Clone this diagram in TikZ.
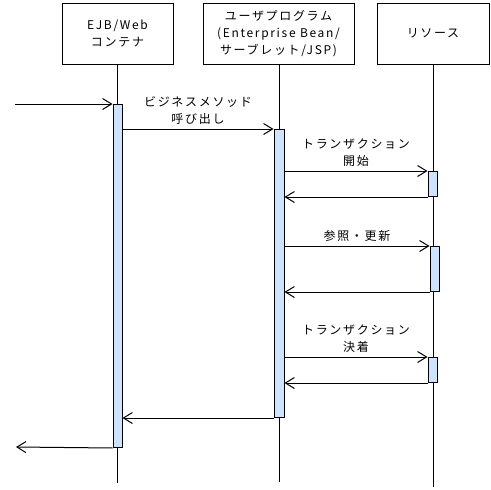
\documentclass[tikz,border=0pt]{standalone}
\usepackage{fontspec}
\setmainfont[LetterSpace=14]{Noto Sans CJK JP}
\usepackage{xcolor}
\usetikzlibrary{arrows.meta}
\definecolor{actblue}{RGB}{204,228,255}

\begin{document}
\begin{tikzpicture}[x=1pt,y=-1pt,
    every node/.style={font=\fontsize{12}{17}\selectfont},
    lifebox/.style={draw, line width=1pt, minimum height=61pt, align=center, inner sep=0pt},
    actbar/.style={draw, fill=actblue, line width=1pt, minimum width=9pt, inner sep=0pt, anchor=north},
    msg/.style={line width=1pt, -{Straight Barb[length=9pt,width=11pt,line width=1pt]}},
    lbl/.style={above=1pt, align=center}]
				\useasboundingbox (0,0) rectangle (491,490);

				\node[lifebox, minimum width=111pt] (ejb) at (117.5,33.5) {EJB/Web\\コンテナ};
				\node[lifebox, minimum width=151pt] (user) at (278.5,33.5) {ユーザプログラム\\(Enterprise Bean/\\サーブレット/JSP)};
				\node[lifebox, minimum width=112pt] (res) at (433,33.5) {リソース};

				\coordinate (ejbend) at (117.5,483);
				\coordinate (userend) at (279,482);
				\coordinate (resend) at (433,487);
				\draw[line width=1pt] (ejb.south) -- (ejbend);
				\draw[line width=1pt] (user.south -| userend) -- (userend);
				\draw[line width=1pt] (res.south) -- (resend);

				\node[actbar, minimum height=343pt] (ejbact) at (117.5,104) {};
				\node[actbar, minimum width=10pt, minimum height=288pt] (useract) at (279,129) {};
				\node[actbar, minimum height=25pt] (begin) at (432.5,171) {};
				\node[actbar, minimum height=45pt] (update) at (434.5,246) {};
				\node[actbar, minimum height=25pt] (commit) at (432.5,357) {};

				\coordinate (start) at (15,104);
				\coordinate (stop) at (16,447);
				\draw[msg] (start) -- (ejbact.north west);
				\draw[msg] (ejbact.east |- useract.north) -- node[lbl] {ビジネスメソッド\\呼び出し} (useract.north west);
				\draw[msg] (useract.east |- begin.north) -- node[lbl] {トランザクション\\開始} (begin.north west);
				\draw[msg] (begin.south west) -- (useract.east |- begin.south);
				\draw[msg] (useract.east |- update.north) -- node[lbl] {参照・更新} (update.north west);
				\draw[msg] (update.south west) -- (useract.east |- update.south);
				\draw[msg] (useract.east |- commit.north) -- node[lbl] {トランザクション\\決着} (commit.north west);
				\draw[msg] (commit.south west) -- (useract.east |- commit.south);
				\draw[msg] (useract.south west) -- (ejbact.east |- useract.south);
				\draw[msg] (ejbact.south west) -- (stop);
			\end{tikzpicture}
\end{document}
